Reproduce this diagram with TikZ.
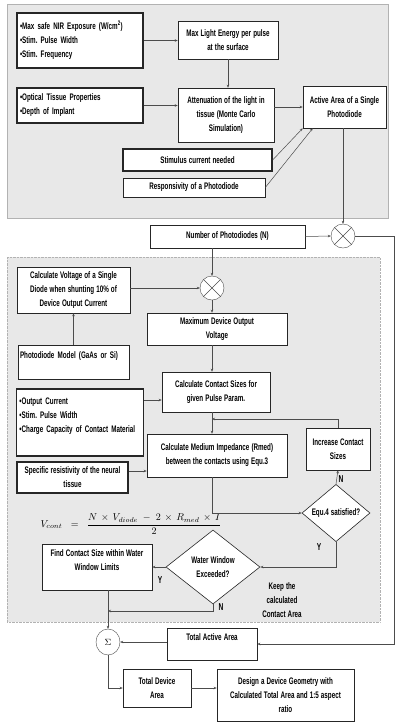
\documentclass[tikz,border=0pt]{standalone}
\usepackage{fontspec}
\setmainfont{Liberation Sans}[FakeStretch=0.66]
\usetikzlibrary{arrows.meta,shapes.geometric}
\newcommand\boxfont{\bfseries\fontsize{9.5}{14}\selectfont\frenchspacing\spaceskip=2.1pt plus 1pt\relax}

\begin{document}
\begin{tikzpicture}[x=1pt,y=-1pt,
   font=\boxfont,
   box/.style={draw=black!85,fill=white,line width=.6pt,inner sep=2pt,align=center},
   boldbox/.style={box,line width=1.3pt,inner sep=3pt,align=left},
   decision/.style={diamond,draw=black!85,fill=white,line width=.6pt,inner sep=0pt,align=center},
   mult/.style={circle,draw=black!70,fill=white,minimum size=24pt,inner sep=0pt},
   arr/.style={draw=black!70,line width=.5pt,-{Stealth[length=3pt,width=2.5pt]}},
   lbl/.style={font=\bfseries\fontsize{10}{10}\selectfont}]

   \useasboundingbox (0,0) rectangle (400,724);

   % panels
   \draw[gray!60,fill=gray!18] (7,4) rectangle (388,218);
   \draw[gray!60,fill=gray!18,densely dotted] (7,257) rectangle (380,622);

   % light budget
   \node[boldbox,text width=120pt,minimum height=55pt] (nir) at (80,40.5)
      {•Max safe NIR Exposure (W/cm\textsuperscript{2})\\•Stim.\ Pulse Width\\•Stim.\ Frequency};
   \node[box,minimum width=100pt,minimum height=38pt] (energy) at (228,40)
      {Max Light Energy per pulse\\at the surface};
   \node[boldbox,text width=120pt,minimum height=35pt] (optic) at (80,105.5)
      {•Optical Tissue Properties\\•Depth of Implant};
   \node[box,minimum width=96pt,minimum height=54pt] (atten) at (226,115)
      {Attenuation of the light in\\tissue (Monte Carlo\\Simulation)};
   \node[box,minimum width=83pt,minimum height=42pt] (area) at (344.5,107)
      {Active Area of a Single\\Photodiode};
   \node[boldbox,align=center,minimum width=149pt,minimum height=22pt] (stim) at (197.5,160)
      {Stimulus current needed};
   \node[box,minimum width=142pt,minimum height=19pt] (resp) at (194,187.5)
      {Responsivity of a Photodiode};

   \node[box,minimum width=155pt,minimum height=23pt] (num) at (227.5,236.5)
      {Number of Photodiodes (N)};
   \node[mult] (mulA) at (343,236) {};

   % voltage and contacts
   \node[box,minimum width=113pt,minimum height=46pt] (vdiode) at (73.5,290)
      {Calculate Voltage of a Single\\Diode when shunting 10\% of\\Device Output Current};
   \node[mult] (mulB) at (212,288) {};
   \node[box,minimum width=140pt,minimum height=32pt] (vmax) at (217,329)
      {Maximum Device Output\\Voltage};
   \node[box,align=left,text width=107pt,minimum height=34pt] (model) at (73.5,362)
      {Photodiode Model (GaAs or Si)\\\mbox{}};
   \node[box,minimum width=108pt,minimum height=40pt] (csize) at (216,392)
      {Calculate Contact Sizes for\\given Pulse Param.};
   \node[boldbox,text width=121pt,minimum height=67pt] (charge) at (80,422.5)
      {•Output Current\\•Stim.\ Pulse Width\\\mbox{•Charge Capacity of Contact Material}\\\mbox{}};
   \node[box,minimum width=140pt,minimum height=43pt] (rmed) at (217,455.5)
      {Calculate Medium Impedance (Rmed)\\between the contacts using Equ.3};
   \node[box,minimum width=64pt,minimum height=42pt] (incr) at (338,449)
      {Increase Contact\\Sizes};
   \node[boldbox,align=center,minimum width=111pt,minimum height=31pt] (rho) at (72.5,477.5)
      {Specific resistivity of the neural\\tissue};
   \node[decision,minimum width=68pt,minimum height=55pt] (equ4) at (336,513)
      {Equ.4 satisfied?};
   \node[font=\fontsize{10}{12}\selectfont] (eq) at (131,524)
      {$V_{cont}\;\;=\;\;\displaystyle\frac{N\,\times\,V_{diode}\;-\;2\,\times\,R_{med}\,\times\,I}{2}$};
   \node[decision,minimum width=94pt,minimum height=74pt] (water) at (213,567)
      {Water Window\\Exceeded?};
   \node[box,minimum width=110pt,minimum height=46pt] (find) at (97,567)
      {Find Contact Size within Water\\Window Limits\\\mbox{}};
   \node[align=center] (keep) at (282,600) {Keep the\\calculated\\Contact Area};

   % totals
   \node[box,minimum width=90pt,minimum height=32pt] (total) at (212,644)
      {Total Active Area\\\mbox{}};
   \node[ellipse,draw=black!70,fill=white,minimum width=24pt,minimum height=26pt,inner sep=0pt] (sum) at (108,642)
      {$\Sigma$};
   \node[box,minimum width=68pt,minimum height=38pt] (device) at (157,688)
      {Total Device\\Area};
   \node[box,minimum width=137pt,minimum height=52pt] (design) at (285.5,695)
      {Design a Device Geometry with\\Calculated Total Area and 1:5 aspect\\ratio};

   \foreach \m in {mulA,mulB}
      \draw[black!70] (\m.north west) -- (\m.south east) (\m.north east) -- (\m.south west);

   % connectors
   \draw[arr] (nir.east) -- (nir.east -| energy.west);
   \draw[arr] (energy.south) -- (energy.south |- atten.north);
   \draw[arr] (optic.east) -- (optic.east -| atten.west);
   \draw[arr] (area.west -| atten.east) -- (area.west);
   \draw[arr] (stim.east) -- (area.south west);
   \draw[arr] (resp.east) -- ([xshift=10pt]area.south west);
   \draw[arr] (mulA.north |- area.south) -- (mulA.north);
   \draw[arr] (num.east) -- (mulA.west);
   \draw[arr] (mulA.east) -- ++(39,0) |- (total.east);

   \draw[arr] (mulB.north |- num.south) -- (mulB.north);
   \draw[arr] (vdiode.east |- mulB.west) -- (mulB.west);
   \draw[arr] (mulB.south) -- (mulB.south |- vmax.north);
   \draw[arr] (model.north) -- (vdiode.south);
   \draw[arr] (mulB |- vmax.south) -- (mulB |- csize.north);
   \draw[arr] (charge.east |- 0,400) -- (csize.west |- 0,400);
   \draw[arr] (mulB |- csize.south) -- (mulB |- rmed.north);
   \draw[arr] (incr.north) |- (mulB |- 0,419);
   \draw[arr] (rho.east |- 0,471) -- (rmed.west |- 0,471);
   \draw[arr] (mulB |- rmed.south) |- (equ4.west);
   \draw[arr] (equ4.north) -- (incr.south);
   \draw[arr] (equ4.south) |- (water.east);
   \draw[arr] (water.west) -- (find.east);
   \draw[arr] (water.south) |- (sum.north |- 0,611);
   \draw[arr] (sum.north |- find.south) -- (sum.north);
   \draw[arr] (total.west |- sum.east) -- (sum.east);
   \draw[arr] (sum.south) |- (device.west);
   \draw[arr] (device.east) -- (device.east -| design.west);

   \node[lbl] at (341,479) {N};
   \node[lbl] at (319,547) {Y};
   \node[lbl] at (160,580) {Y};
   \node[lbl] at (221,607) {N};

\end{tikzpicture}
\end{document}
